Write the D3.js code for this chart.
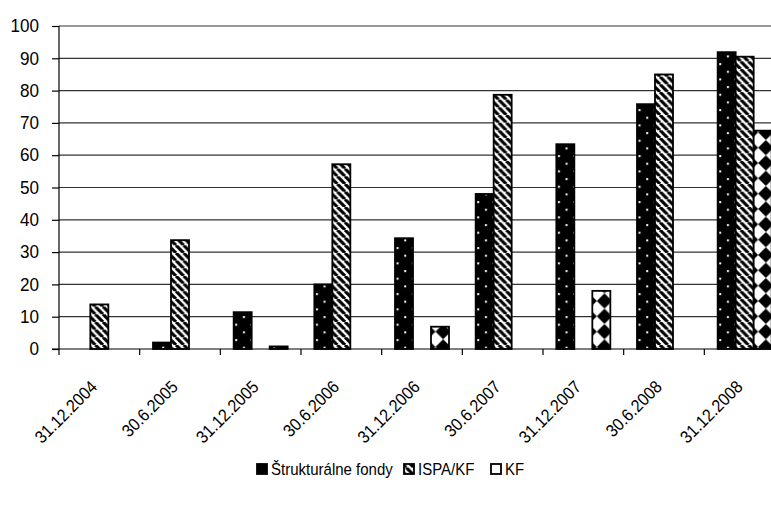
<!DOCTYPE html>
<html>
<head>
<meta charset="utf-8">
<script src="https://cdn.jsdelivr.net/npm/d3@7"></script>
<style>
  html, body { margin: 0; padding: 0; background: #fff; overflow: hidden; }
  svg { display: block; font-family: "Liberation Sans", Arial, sans-serif; }
</style>
</head>
<body>
<svg id="chart" width="771" height="506"></svg>
<script>
// Čerpanie prostriedkov (%) podľa dátumu
const categories = ["31.12.2004", "30.6.2005", "31.12.2005", "30.6.2006", "31.12.2006",
                    "30.6.2007", "31.12.2007", "30.6.2008", "31.12.2008"];
const strukturalneFondy = [0, 2, 11.4, 20, 34.3, 48, 63.4, 75.8, 91.9];
const ispaKf = [13.8, 33.7, 0, 57.2, 0, 78.7, 0, 85, 90.5];
const kf = [0, 0, 0.8, 0, 6.9, 0, 18, 0, 67.6];
const seriesNames = ["Štrukturálne fondy", "ISPA/KF", "KF"];
const yTickValues = [0, 10, 20, 30, 40, 50, 60, 70, 80, 90, 100];

const seriesValues = [strukturalneFondy, ispaKf, kf];
const patternIds = ["pat-dots", "pat-diag", "pat-diamond"];

const svg = d3.select("#chart");
const W = 771;
const plot = { left: 59, right: 785, top: 26, bottom: 349 };

const x = d3.scaleBand().domain(categories).range([plot.left, plot.right]).padding(0);
const groupWidth = 54;
const xSub = d3.scaleBand().domain(seriesNames).range([0, groupWidth]).padding(0);
const y = d3.scaleLinear().domain([0, 100]).range([plot.bottom, plot.top]);

// ---- fill patterns (anchored to page coordinates) ----
const defs = svg.append("defs");
const D = 15.33;

// black with small white dots
const pDots = defs.append("pattern").attr("id", "pat-dots")
  .attr("patternUnits", "userSpaceOnUse")
  .attr("x", 722).attr("y", 155).attr("width", D).attr("height", D);
pDots.append("rect").attr("width", D).attr("height", D).attr("fill", "#000");
pDots.append("rect").attr("x", 0.1).attr("y", 0.1).attr("width", 2).attr("height", 2).attr("fill", "#fff");
pDots.append("rect").attr("x", 0.1 + D / 2).attr("y", 0.1 + D / 2).attr("width", 2).attr("height", 2).attr("fill", "#fff");

// wide downward diagonal stripes
const p = D / 2;
const pDiag = defs.append("pattern").attr("id", "pat-diag")
  .attr("patternUnits", "userSpaceOnUse")
  .attr("x", 0).attr("y", 0).attr("width", p).attr("height", p);
pDiag.append("rect").attr("width", p).attr("height", p).attr("fill", "#fff");
pDiag.append("path")
  .attr("d", `M0,0L${p},${p}M${-p},0L0,${p}M${p},0L${2 * p},${p}`)
  .attr("stroke", "#000").attr("stroke-width", 3.2);

// diamond checkerboard
const pDia = defs.append("pattern").attr("id", "pat-diamond")
  .attr("patternUnits", "userSpaceOnUse")
  .attr("x", 761 - D / 2).attr("y", 140 - D / 2).attr("width", D).attr("height", D);
pDia.append("rect").attr("width", D).attr("height", D).attr("fill", "#000");
pDia.append("polygon")
  .attr("points", `${D / 2},0 ${D},${D / 2} ${D / 2},${D} 0,${D / 2}`)
  .attr("fill", "#fff");

// ---- gridlines ----
svg.append("g").selectAll("line").data(yTickValues.filter(v => v > 0)).join("line")
  .attr("x1", plot.left).attr("x2", W)
  .attr("y1", d => y(d)).attr("y2", d => y(d))
  .attr("stroke", "#333").attr("stroke-width", 1.2);

// ---- bars ----
const groups = svg.append("g").selectAll("g").data(categories).join("g")
  .attr("transform", d => `translate(${x(d) + (x.bandwidth() - groupWidth) / 2},0)`);

groups.selectAll("rect")
  .data((c, i) => seriesNames.map((s, k) => ({ s, k, v: seriesValues[k][i] })).filter(d => d.v > 0))
  .join("rect")
  .attr("x", d => xSub(d.s))
  .attr("y", d => y(d.v))
  .attr("width", xSub.bandwidth())
  .attr("height", d => y(0) - y(d.v))
  .attr("fill", d => `url(#${patternIds[d.k]})`)
  .attr("stroke", "#000").attr("stroke-width", 1.8);

// ---- y axis ----
const yAxis = svg.append("g").attr("transform", `translate(${plot.left},0)`)
  .call(d3.axisLeft(y).tickValues(yTickValues).tickSize(7).tickPadding(0));
yAxis.select(".domain").attr("stroke", "#000").attr("stroke-width", 1.2).attr("d", `M0,${plot.top}V${plot.bottom}`);
yAxis.selectAll(".tick line").attr("stroke", "#000").attr("stroke-width", 1.2);
yAxis.selectAll(".tick text")
  .attr("x", null)
  .attr("transform", "translate(-20,0) scale(0.95,1)")
  .attr("font-size", 18).attr("fill", "#000")
  .attr("font-family", "Liberation Sans, Arial, sans-serif");

// ---- x axis ----
const xAxisG = svg.append("g");
xAxisG.append("line")
  .attr("x1", plot.left - 7).attr("x2", W)
  .attr("y1", plot.bottom).attr("y2", plot.bottom)
  .attr("stroke", "#000").attr("stroke-width", 1.2);
xAxisG.selectAll("line.bound").data(categories).join("line").attr("class", "bound")
  .attr("x1", d => x(d)).attr("x2", d => x(d))
  .attr("y1", plot.bottom).attr("y2", plot.bottom + 6)
  .attr("stroke", "#000").attr("stroke-width", 1.2);
xAxisG.selectAll("text").data(categories).join("text")
  .attr("transform", d => `translate(${x(d) + x.bandwidth() / 2 - 1},${plot.bottom + 39}) rotate(-45) scale(0.91,1)`)
  .attr("text-anchor", "end")
  .attr("font-size", 17.5)
  .attr("fill", "#000")
  .text(d => d);

// ---- legend ----
const legendItems = [
  { name: seriesNames[0], k: 0, sx: 257, tx: 271 },
  { name: seriesNames[1], k: 1, sx: 404, tx: 418 },
  { name: seriesNames[2], k: 2, sx: 491, tx: 505 }
];
const legend = svg.append("g");
const legendY = 475;
legend.selectAll("rect").data(legendItems).join("rect")
  .attr("x", d => d.sx).attr("y", legendY - 11).attr("width", 10).attr("height", 10)
  .attr("fill", d => d.k === 2 ? "#fff" : `url(#${patternIds[d.k]})`)
  .attr("stroke", "#000").attr("stroke-width", 1.8);
legend.selectAll("text").data(legendItems).join("text")
  .attr("transform", d => `translate(${d.tx},${legendY}) scale(0.91,1)`)
  .attr("font-size", 16.5).attr("fill", "#000")
  .text(d => d.name);
</script>
</body>
</html>
